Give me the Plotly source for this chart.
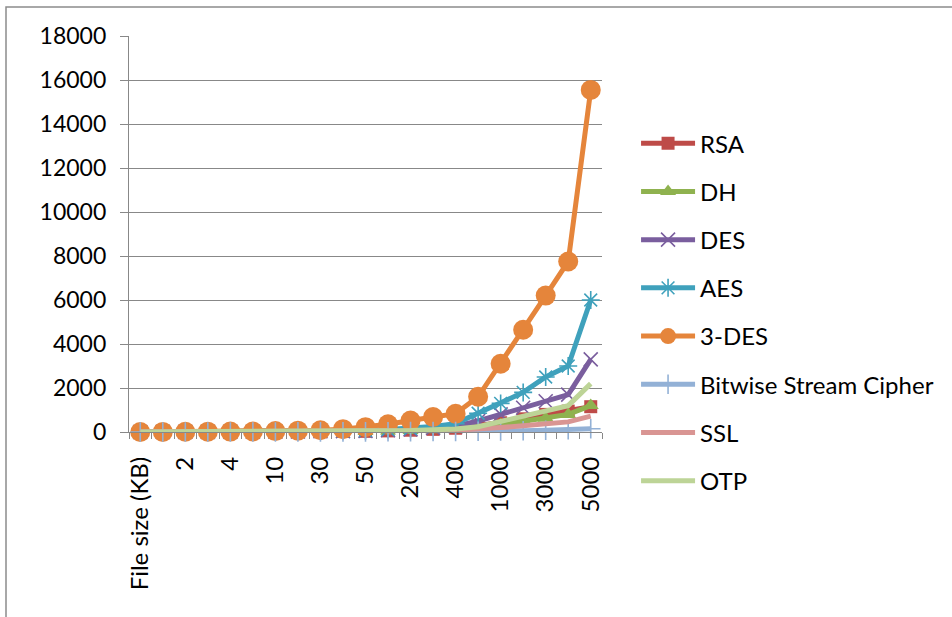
import plotly.graph_objects as go

# Category labels along the x axis (file sizes)
file_sizes = ["File size (KB)", "1", "2", "3", "4", "5", "10", "20", "30", "40", "50",
              "100", "200", "300", "400", "500", "1000", "2000", "3000", "4000", "5000"]

# Processing time for each algorithm, one value per file size
rsa = [0, 2, 3, 4, 5, 6, 10, 15, 20, 25, 30, 50, 80, 120, 170, 280, 420, 600, 800, 950, 1150]
dh = [0, 2, 3, 4, 5, 6, 10, 14, 18, 22, 28, 45, 70, 100, 140, 220, 330, 470, 620, 800, 1200]
des = [0, 3, 5, 7, 9, 11, 18, 25, 32, 40, 50, 80, 120, 180, 260, 500, 800, 1100, 1400, 1700, 3300]
aes = [0, 3, 5, 7, 9, 12, 20, 30, 40, 55, 70, 110, 160, 250, 380, 850, 1300, 1800, 2500, 3000, 6000]
triple_des = [0, 5, 10, 15, 20, 25, 40, 60, 80, 130, 220, 350, 520, 680, 830, 1600, 3100, 4650, 6200, 7750, 15550]
bitwise = [0, 1, 1, 1, 2, 2, 3, 4, 5, 6, 7, 10, 15, 20, 25, 35, 45, 60, 80, 100, 150]
ssl = [0, 1, 2, 3, 3, 4, 6, 8, 10, 12, 15, 25, 40, 60, 80, 120, 200, 280, 360, 460, 720]
otp = [0, 2, 3, 4, 5, 6, 10, 15, 20, 25, 30, 50, 70, 100, 140, 240, 470, 700, 920, 1200, 2200]

y_ticks = list(range(0, 18001, 2000))
y_labels = [str(v) for v in y_ticks]

FONT = "Lato"
GRID = "#888888"

series = [
    ("RSA", rsa, "#BE4B48", dict(symbol="square", size=13)),
    ("DH", dh, "#8FB24F", dict(symbol="triangle-up", size=14)),
    ("DES", des, "#7A5E9E", dict(symbol="x-thin-open", size=14, line=dict(width=1.6))),
    ("AES", aes, "#3FA1BC", dict(symbol="asterisk-open", size=15, line=dict(width=1.6))),
    ("3-DES", triple_des, "#E5853B", dict(symbol="circle", size=20)),
    ("Bitwise Stream Cipher", bitwise, "#93B1D6", dict(symbol="cross-thin-open", size=14, line=dict(width=1.6))),
    ("SSL", ssl, "#D99593", None),
    ("OTP", otp, "#BDD497", None),
]

fig = go.Figure()
for name, values, color, marker in series:
    if marker is None:
        mode = "lines"
        mk = None
    else:
        mode = "lines+markers"
        mk = dict(color=color, **marker)
        if "line" in mk:
            mk["line"] = dict(color=color, width=marker["line"]["width"])
        else:
            mk["line"] = dict(color=color, width=0)
    fig.add_trace(go.Scatter(
        x=file_sizes, y=values, name=name, mode=mode,
        line=dict(color=color, width=5),
        marker=mk, cliponaxis=False, legendgroup=name,
    ))

# Outer chart-area frame (top and left edges visible)
fig.add_shape(type="rect", xref="paper", yref="paper",
              x0=-123 / 473, x1=2.0, y0=-2.0, y1=1 + 29 / 396,
              line=dict(color="#8C8C8C", width=1.5), layer="below")

fig.update_layout(
    width=952, height=617,
    margin=dict(l=129, r=350, t=36, b=185),
    paper_bgcolor="white", plot_bgcolor="white",
    font=dict(family=FONT, size=24, color="black"),
    showlegend=True,
    legend=dict(
        x=1.072, xanchor="left", y=0.785, yanchor="top",
        font=dict(family=FONT, size=24, color="black"),
        tracegroupgap=14, itemwidth=54, bgcolor="rgba(0,0,0,0)",
    ),
    xaxis=dict(
        type="category", range=[-0.5, len(file_sizes) - 0.5],
        showgrid=False, showline=True, linecolor=GRID, linewidth=1.3,
        tickmode="linear", tick0=0, dtick=1, ticklabelstep=2,
        ticks="outside", tickson="boundaries", ticklen=6, tickcolor=GRID,
        tickangle=-90, zeroline=False, ticklabelstandoff=14,
        tickfont=dict(family=FONT, size=24, color="black"),
    ),
    yaxis=dict(
        range=[0, 18000], tickvals=y_ticks, ticktext=y_labels,
        showgrid=True, gridcolor=GRID, gridwidth=1.3,
        showline=True, linecolor=GRID, linewidth=1.3, zeroline=False,
        ticks="outside", ticklen=8, tickcolor=GRID, ticklabelstandoff=9,
        tickfont=dict(family=FONT, size=23, color="black"),
    ),
)

fig.write_html("out.html")
